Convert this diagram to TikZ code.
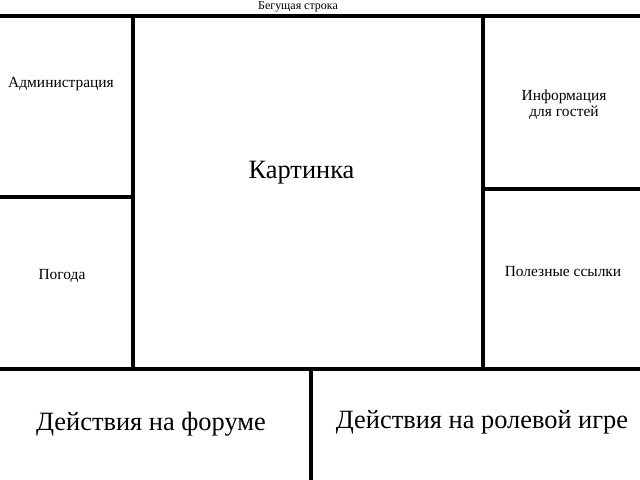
\documentclass[tikz,border=0pt]{standalone}
\usepackage{fontspec}
\setmainfont{Liberation Serif}
\begin{document}
\begin{tikzpicture}[x=1bp,y=-1bp,
  wall/.style={line width=4bp, line cap=butt},
  small/.style={font=\fontsize{15.5}{16}\selectfont, align=center, inner sep=0},
  big/.style={font=\fontsize{26.5}{28}\selectfont, inner sep=0},
  bottom/.style={font=\fontsize{26.5}{30}\selectfont, inner sep=0}]
\useasboundingbox (0,0) rectangle (640,480);
\coordinate (tl) at (0,16.5);
\coordinate (tr) at (640,16.5);
\coordinate (v1t) at (132.5,16.5);
\coordinate (v1b) at (132.5,369);
\coordinate (h1l) at (0,197);
\coordinate (h1r) at (132.5,197);
\coordinate (v2t) at (482.5,16.5);
\coordinate (v2b) at (482.5,369);
\coordinate (h2l) at (482.5,189.5);
\coordinate (h2r) at (640,189.5);
\coordinate (bl) at (0,369);
\coordinate (br) at (640,369);
\coordinate (v3t) at (310.5,369);
\coordinate (v3b) at (310.5,480);
\draw[wall] (tl) -- (tr);
\draw[wall] (v1t) -- (v1b);
\draw[wall] (h1l) -- (h1r);
\draw[wall] (v2t) -- (v2b);
\draw[wall] (h2l) -- (h2r);
\draw[wall] (bl) -- (br);
\draw[wall] (v3t) -- (v3b);
\node[small, font=\fontsize{12}{13}\selectfont] (ticker) at (298,6.5) {Бегущая строка};
\node[small] (admin) at (61,84) {Администрация};
\node[small] (weather) at (62,276) {Погода};
\node[big] (pic) at (301.5,173) {Картинка};
\node[small] (info) at (564,104.5) {Информация\\для гостей};
\node[small] (links) at (563,272) {Полезные ссылки};
\node[bottom] (forum) at (151,424.5) {Действия на форуме};
\node[bottom] (rpg) at (482,422.5) {Действия на ролевой игре};
\end{tikzpicture}
\end{document}
